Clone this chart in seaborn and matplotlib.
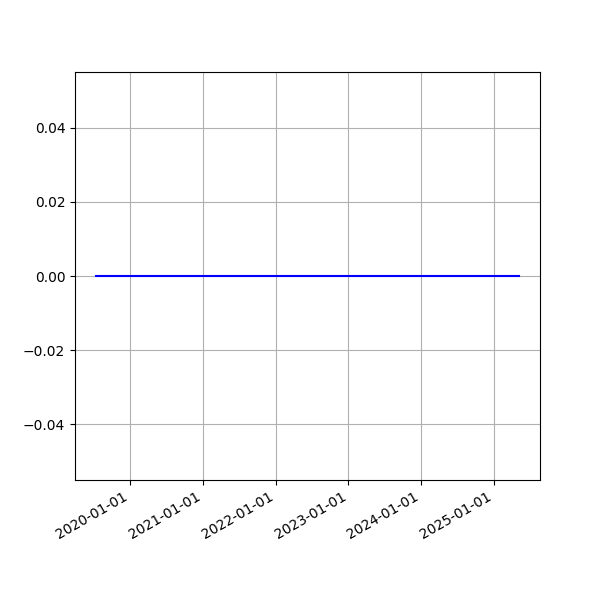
import matplotlib
matplotlib.use("Agg")
import matplotlib.pyplot as plt
import matplotlib.dates as mdates
import pandas as pd
import seaborn as sns

dates = ["2019-07-15", "2025-05-05"]
values = [0.0, 0.0]

df = pd.DataFrame({"date": pd.to_datetime(dates), "value": values})

fig, ax = plt.subplots(figsize=(6, 6), dpi=100)
sns.lineplot(data=df, x="date", y="value", color="blue", ax=ax)
ax.set_xlabel("")
ax.set_ylabel("")
ax.grid(True)
ax.xaxis.set_major_locator(mdates.YearLocator())
ax.xaxis.set_major_formatter(mdates.DateFormatter("%Y-%m-%d"))
fig.autofmt_xdate()
fig.savefig("out.png", dpi=100)
